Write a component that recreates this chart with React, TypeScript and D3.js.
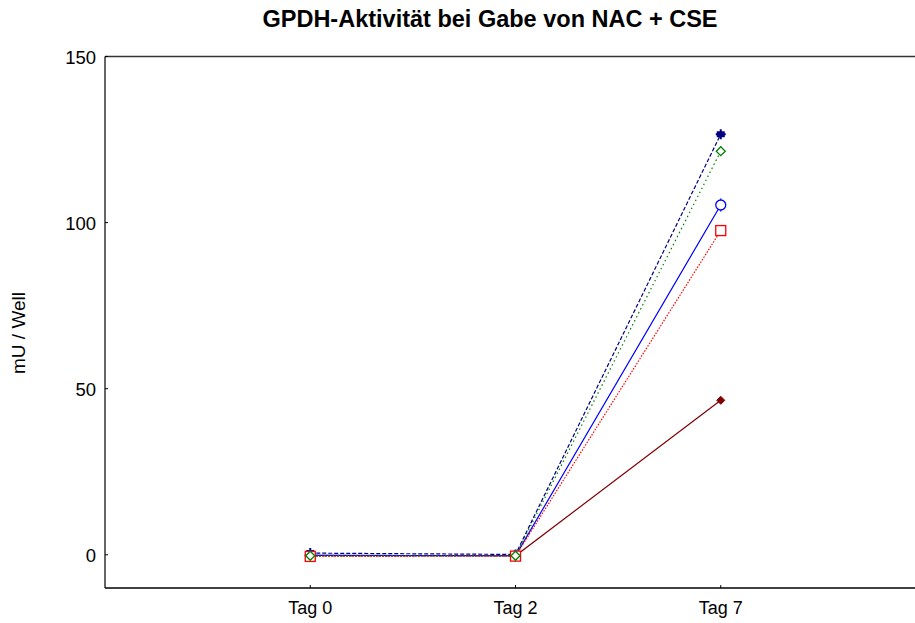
import React from "react";
import * as d3 from "d3";

const categories = ["Tag 0", "Tag 2", "Tag 7"];
const yTicks = [0, 50, 100, 150];

const navyValues = [0.5, 0.1, 126.6];
const greenValues = [-0.3, -0.3, 121.5];
const blueValues = [-0.2, -0.3, 105.3];
const redValues = [-0.5, -0.4, 97.6];
const darkRedValues = [-0.2, -0.3, 46.5];

const navyErr = [0.3, 0.3, 1.2];
const greenErr = [0.3, 0.3, 0.8];
const blueErr = [0.3, 0.3, 2.0];
const redErr = [0.3, 0.3, 1.5];
const darkRedErr = [0.2, 0.2, 0.8];

const series = [
  { name: "darkred", values: darkRedValues, err: darkRedErr, color: "#800000", dash: "", marker: "filledDiamond" },
  { name: "navy", values: navyValues, err: navyErr, color: "#000080", dash: "4,2", marker: "plus" },
  { name: "blue", values: blueValues, err: blueErr, color: "#0000ff", dash: "", marker: "circle" },
  { name: "red", values: redValues, err: redErr, color: "#ff0000", dash: "1.5,1.5", marker: "square" },
  { name: "green", values: greenValues, err: greenErr, color: "#008000", dash: "1.5,3", marker: "diamond" },
];

export default function App() {
  const W = 915, H = 623;
  const left = 105, top = 56.5, bottom = 588, right = 926;
  const x = d3.scaleLinear().domain([0, 4]).range([left, right]);
  const y = d3.scaleLinear().domain([-10, 150]).range([bottom, top]);
  const line = d3.line<number>().x((_, i) => x(i + 1)).y((d) => y(d));
  const font = "Arial, 'Liberation Sans', sans-serif";

  const marker = (m: string, cx: number, cy: number, color: string, key: string) => {
    if (m === "square") return <rect key={key} x={cx - 5} y={cy - 5} width={10} height={10} fill="white" stroke={color} strokeWidth={1.3} />;
    if (m === "circle") return <circle key={key} cx={cx} cy={cy} r={5} fill="white" stroke={color} strokeWidth={1.3} />;
    if (m === "diamond") return <path key={key} d={`M${cx},${cy - 4.5}L${cx + 4.5},${cy}L${cx},${cy + 4.5}L${cx - 4.5},${cy}Z`} fill="white" stroke={color} strokeWidth={1.3} />;
    if (m === "filledDiamond") return <path key={key} d={`M${cx},${cy - 4}L${cx + 4},${cy}L${cx},${cy + 4}L${cx - 4},${cy}Z`} fill={color} stroke={color} strokeWidth={1} />;
    if (m === "plus") return <path key={key} d={`M${cx - 5},${cy}H${cx + 5}M${cx},${cy - 5}V${cy + 5}M${cx - 4},${cy - 2}H${cx + 4}M${cx - 4},${cy + 2}H${cx + 4}`} stroke={color} strokeWidth={2} fill="none" />;
    return null;
  };

  return (
    <svg width={W} height={H} style={{ position: "absolute", left: 0, top: 0, background: "white" }}>
      <text x={490} y={27} textAnchor="middle" fontFamily={font} fontWeight="bold" fontSize={23.5}>
        GPDH-Aktivität bei Gabe von NAC + CSE
      </text>
      <line x1={left} y1={top} x2={W} y2={top} stroke="#333" strokeWidth={1.5} />
      <line x1={left} y1={bottom} x2={W} y2={bottom} stroke="black" strokeWidth={1.5} />
      <line x1={left} y1={top} x2={left} y2={bottom} stroke="black" strokeWidth={1.2} />
      {yTicks.map((t) => (
        <g key={t}>
          <line x1={left} x2={left + 3} y1={y(t)} y2={y(t)} stroke="black" />
          <text x={left - 9} y={y(t) + 7} textAnchor="end" fontFamily={font} fontSize={18.5}>{t}</text>
        </g>
      ))}
      {categories.map((c, i) => (
        <g key={c}>
          <line x1={x(i + 1)} x2={x(i + 1)} y1={bottom} y2={bottom - 3} stroke="black" />
          <text x={x(i + 1)} y={bottom + 26} textAnchor="middle" fontFamily={font} fontSize={18}>{c}</text>
        </g>
      ))}
      <text transform={`translate(25,333) rotate(-90)`} textAnchor="middle" fontFamily={font} fontSize={19}>
        mU / Well
      </text>
      {series.map((s) => (
        <g key={s.name}>
          <path d={line(s.values) || ""} fill="none" stroke={s.color} strokeWidth={1.2} strokeDasharray={s.dash || undefined} />
          {s.values.map((v, i) => (
            <line key={"e" + i} x1={x(i + 1)} x2={x(i + 1)} y1={y(v - s.err[i])} y2={y(v + s.err[i])} stroke={s.color} strokeWidth={1} />
          ))}
          {s.values.map((v, i) => marker(s.marker, x(i + 1), y(v), s.color, s.name + i))}
        </g>
      ))}
    </svg>
  );
}
